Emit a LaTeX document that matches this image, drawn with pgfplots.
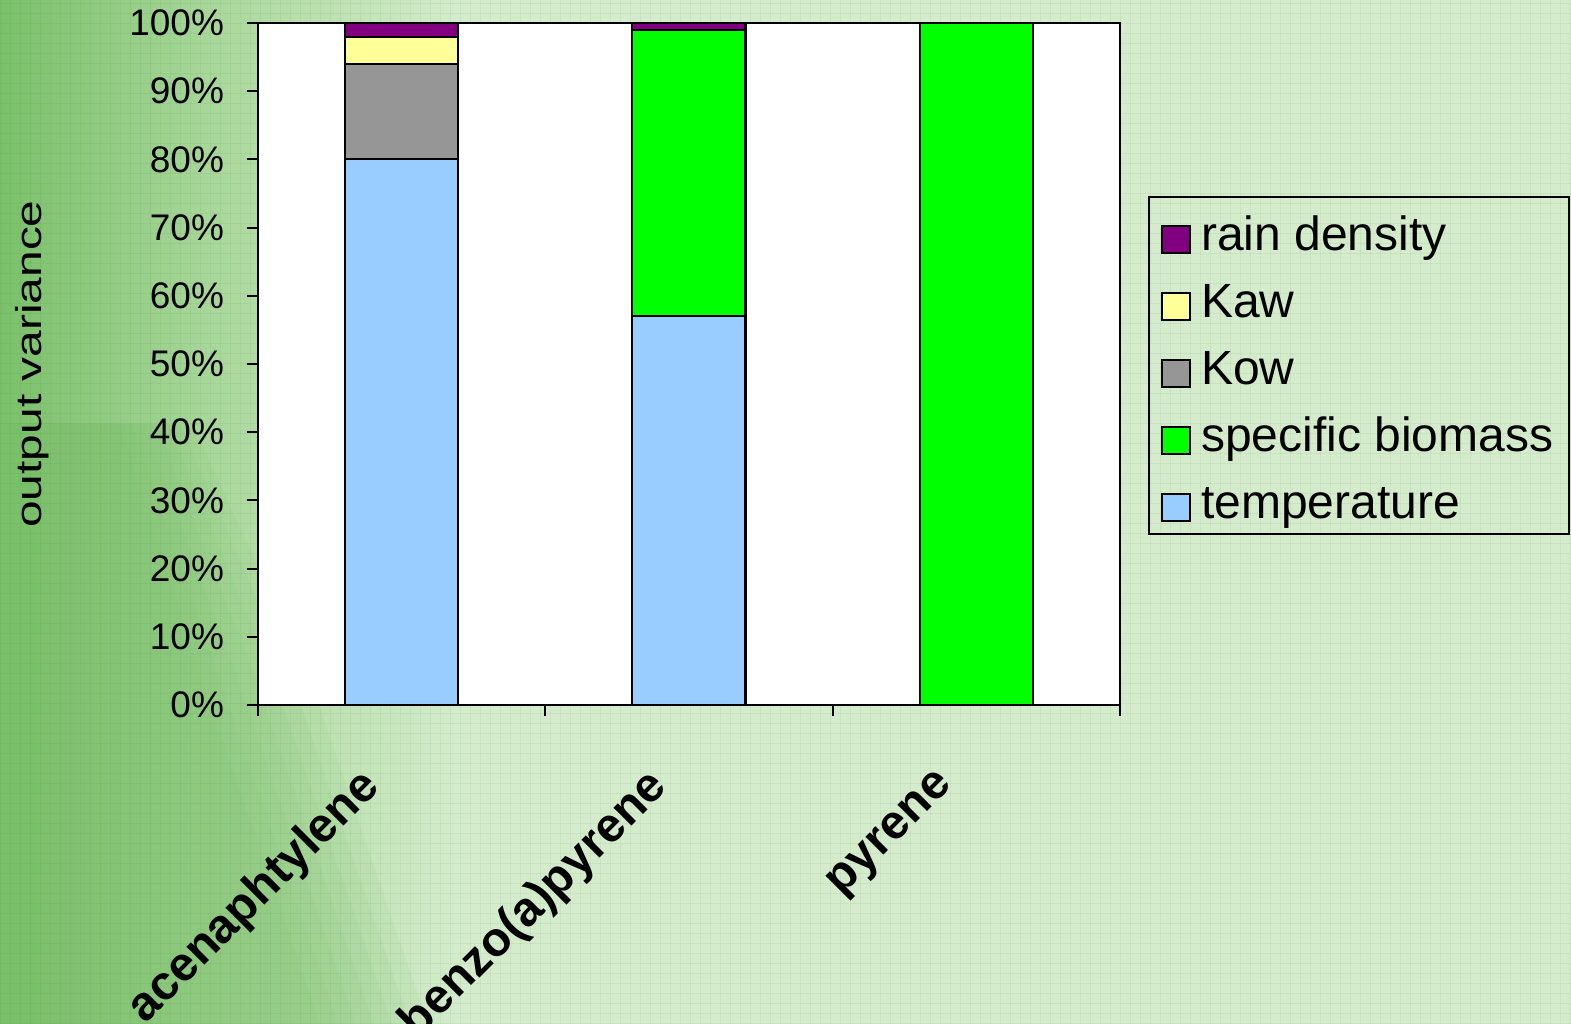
\documentclass[border=0pt]{standalone}
\usepackage{graphicx}
\usepackage{pgfplots}
\pgfplotsset{compat=1.18}
\usepackage{pgfplotstable}
\usepackage{fontspec}
\setmainfont{Liberation Sans}

\definecolor{bgdark}{RGB}{122,192,106}
\definecolor{bgmid}{RGB}{170,216,156}
\definecolor{bglight}{RGB}{212,236,204}
\definecolor{gridtex}{RGB}{60,120,50}
\definecolor{rain}{RGB}{128,0,128}
\definecolor{kaw}{RGB}{255,255,153}
\definecolor{kow}{RGB}{150,150,150}
\definecolor{biomass}{RGB}{0,255,0}
\definecolor{temperature}{RGB}{153,204,255}

% share of output variance (%) per compound and parameter
\pgfplotstableread{
x temp bio kow kaw rain
0 80  0   14 4 2
1 57  42  0  0 1
2 0   100 0  0 0
}\variance

\begin{document}
\begin{tikzpicture}
% page background: green gradient with a fine grid texture
\path[use as bounding box] (0,0) rectangle (785.5pt,512pt);
\fill[bglight] (0,0) rectangle (785.5pt,512pt);
\shade[left color=bgdark, right color=bgmid] (0,0) rectangle (110pt,512pt);
\shade[left color=bgmid, right color=bglight] (110pt,0) rectangle (230pt,512pt);
\begin{scope}
  \clip (0,0) rectangle (785.5pt,512pt);
  % darker diagonal streak in the lower left, soft edged
  \foreach \k in {0,...,6} {
    \fill[bgdark, opacity=0.09] (0,0) -- (160pt+\k*9pt,0) -- (100pt+\k*9pt,175pt) -- (60pt+\k*6pt,300pt) -- (0,300pt) -- cycle;
  }
  \foreach \i in {0,...,157} {\draw[gridtex, opacity=0.07, line width=0.5pt] (\i*5pt,0) -- (\i*5pt,512pt);}
  \foreach \j in {0,...,102} {\draw[gridtex, opacity=0.07, line width=0.5pt] (0,\j*5pt) -- (785.5pt,\j*5pt);}
\end{scope}

\begin{axis}[
  at={(129pt,159.5pt)}, anchor=south west,
  scale only axis, width=431pt, height=341pt,
  ybar stacked, bar width=56.5pt,
  xmin=-0.5, xmax=2.5, ymin=0, ymax=100,
  axis background/.style={fill=white},
  axis line style={line width=1pt, black},
  tick align=outside, major tick length=5.5pt,
  tick style={line width=1pt, black},
  xtick pos=bottom, ytick pos=left,
  xtick={-0.5,0.5,1.5,2.5},
  x tick label as interval,
  xticklabels={acenaphtylene, benzo(a)pyrene, pyrene},
  xticklabel style={font=\fontsize{24pt}{24pt}\selectfont\bfseries,
                    xshift=-12pt, yshift=-29.5pt, rotate=45, anchor=east},
  ytick={0,10,...,100},
  yticklabels={0\%,10\%,20\%,30\%,40\%,50\%,60\%,70\%,80\%,90\%,100\%},
  yticklabel style={font=\fontsize{18.5pt}{18.5pt}\selectfont, xshift=-8pt},
  ylabel={\scalebox{1.33}[1]{output variance}},
  ylabel style={font=\fontsize{18pt}{18pt}\selectfont,
                at={(axis description cs:-0.2616,0.5)}, anchor=center},
  reverse legend,
  legend style={at={(1.0326,0.7463)}, anchor=north west,
                draw=black, line width=1pt, fill=none,
                font=\fontsize{24pt}{24pt}\selectfont,
                inner xsep=6pt, inner ysep=4.5pt, row sep=8pt,
                cells={anchor=west, inner sep=0pt, text height=20pt, text depth=4pt},
                /tikz/every odd column/.append style={column sep=3pt}},
  legend image code/.code={\draw[#1, draw=black, line width=1pt] (0pt,-10.5pt) rectangle (14pt,3pt);},
  every axis plot/.append style={draw=black, line width=1pt},
]
\addplot[fill=temperature] table[x=x, y=temp] {\variance};
\addplot[fill=biomass] table[x=x, y=bio] {\variance};
\addplot[fill=kow] table[x=x, y=kow] {\variance};
\addplot[fill=kaw] table[x=x, y=kaw] {\variance};
\addplot[fill=rain] table[x=x, y=rain] {\variance};
\legend{temperature, specific biomass, Kow, Kaw, rain density}
\end{axis}
\end{tikzpicture}
\end{document}
